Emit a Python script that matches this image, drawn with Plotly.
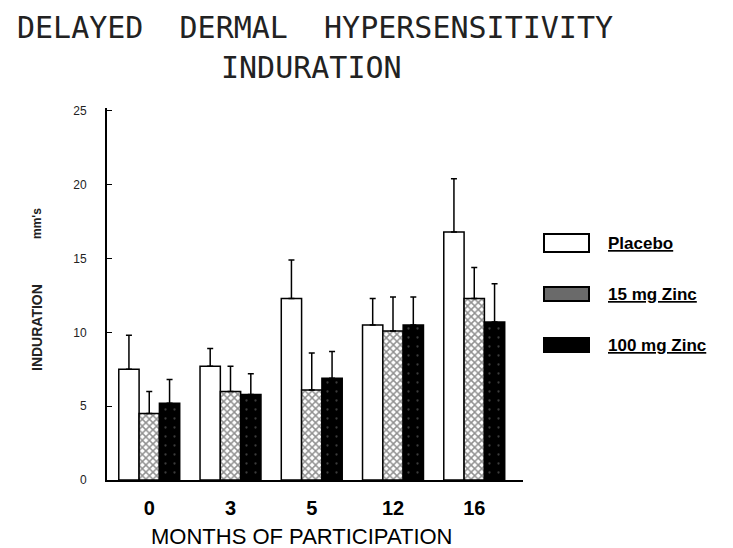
import plotly.graph_objects as go

# months of participation (categories)
months = ['0', '3', '5', '12', '16']

# mean induration (mm) per group
placebo = [7.5, 7.7, 12.3, 10.5, 16.8]
zinc15 = [4.5, 6.0, 6.1, 10.1, 12.3]
zinc100 = [5.2, 5.8, 6.9, 10.5, 10.7]

# upper error bar (SE) per group
placebo_err = [2.3, 1.2, 2.6, 1.8, 3.6]
zinc15_err = [1.5, 1.7, 2.5, 2.3, 2.1]
zinc100_err = [1.6, 1.4, 1.8, 1.9, 2.6]

legend_names = ['Placebo', '15 mg Zinc', '100 mg Zinc']

# page has an 8px body margin, so work in reference pixels minus 8
OFF = 8
W, H = 733 - OFF, 548 - OFF
X0, X1, Y0, Y1 = 107, 523, 480, 108   # plot box in reference pixels
L, R, T, B = X0 - OFF, 733 - X1, Y1 - OFF, 548 - Y0
PW, PH = W - L - R, H - T - B


def px_x(x):
    return (x - X0) / PW


def px_y(y):
    return (Y0 - y) / PH


def err(vals):
    return dict(type='data', array=vals, arrayminus=[0] * len(vals), symmetric=False,
                color='black', thickness=1.5, width=3)


fig = go.Figure()
fig.add_trace(go.Bar(x=months, y=placebo, name=legend_names[0], error_y=err(placebo_err),
                     marker=dict(color='white', line=dict(color='black', width=1.5))))
fig.add_trace(go.Bar(x=months, y=zinc15, name=legend_names[1], error_y=err(zinc15_err),
                     marker=dict(color='white', line=dict(color='black', width=1.5),
                                 pattern=dict(shape='x', fgcolor='#222', bgcolor='white',
                                              size=5, solidity=0.5))))
fig.add_trace(go.Bar(x=months, y=zinc100, name=legend_names[2], error_y=err(zinc100_err),
                     marker=dict(color='black', line=dict(color='black', width=1.5),
                                 pattern=dict(shape='.', fgcolor='#777', bgcolor='black',
                                              size=9, solidity=0.05))))

fig.update_layout(
    width=W, height=H,
    margin=dict(l=L, r=R, t=T, b=B, autoexpand=False),
    plot_bgcolor='white', paper_bgcolor='white',
    barmode='group', bargap=0.25, bargroupgap=0,
    showlegend=False,
    font=dict(family='Liberation Sans', color='black'),
)
fig.update_xaxes(type='category', range=[-0.52, 4.6], showline=True, linecolor='black',
                 linewidth=2, ticks='', showgrid=False,
                 tickfont=dict(size=20, family='Liberation Sans', color='black', weight='bold'),
                 ticklabelstandoff=9)
fig.update_yaxes(range=[0, 25.2], tickvals=[0, 5, 10, 15, 20, 25], showline=True,
                 linecolor='black', linewidth=2, ticks='inside', ticklen=5, tickcolor='black',
                 showgrid=False, zeroline=False, tickfont=dict(size=12, color='#222'),
                 ticklabelstandoff=16)

# title
fig.add_annotation(text='DELAYED  DERMAL  HYPERSENSITIVITY', xref='paper', yref='paper',
                   x=px_x(315), y=px_y(28), xanchor='center', yanchor='middle',
                   showarrow=False, font=dict(family='DejaVu Sans Mono', size=30, color='#222'))
fig.add_annotation(text='INDURATION', xref='paper', yref='paper',
                   x=px_x(311), y=px_y(67), xanchor='center', yanchor='middle',
                   showarrow=False, font=dict(family='DejaVu Sans Mono', size=30, color='#222'))

# x title
fig.add_annotation(text='MONTHS OF PARTICIPATION', xref='paper', yref='paper',
                   x=px_x(302), y=px_y(536), xanchor='center', yanchor='middle',
                   showarrow=False, font=dict(size=22, family='Liberation Sans'))

# y title, two pieces
fig.add_annotation(text='<b>INDURATION</b>', xref='paper', yref='paper',
                   x=px_x(37), y=px_y(328), xanchor='center', yanchor='middle',
                   showarrow=False, textangle=-90, font=dict(size=14, color='#222'))
fig.add_annotation(text='<b>mm\'s</b>', xref='paper', yref='paper',
                   x=px_x(37), y=px_y(224), xanchor='center', yanchor='middle',
                   showarrow=False, textangle=-90, font=dict(size=12, color='#222'))

# legend drawn by hand
leg_rows = [(243, 'white'), (294, '#6a6a6a'), (345, 'black')]
for (cy, fill), name in zip(leg_rows, legend_names):
    h = 9 if fill == 'white' else 7
    fig.add_shape(type='rect', xref='paper', yref='paper',
                  x0=px_x(544), x1=px_x(589), y0=px_y(cy + h), y1=px_y(cy - h),
                  fillcolor=fill, line=dict(color='black', width=2))
    fig.add_annotation(text='<b><u>' + name + '</u></b>', xref='paper', yref='paper',
                       x=px_x(606), y=px_y(cy), xanchor='left', yanchor='middle',
                       showarrow=False, font=dict(size=17, family='Liberation Sans'))

fig.write_html("out.html")
